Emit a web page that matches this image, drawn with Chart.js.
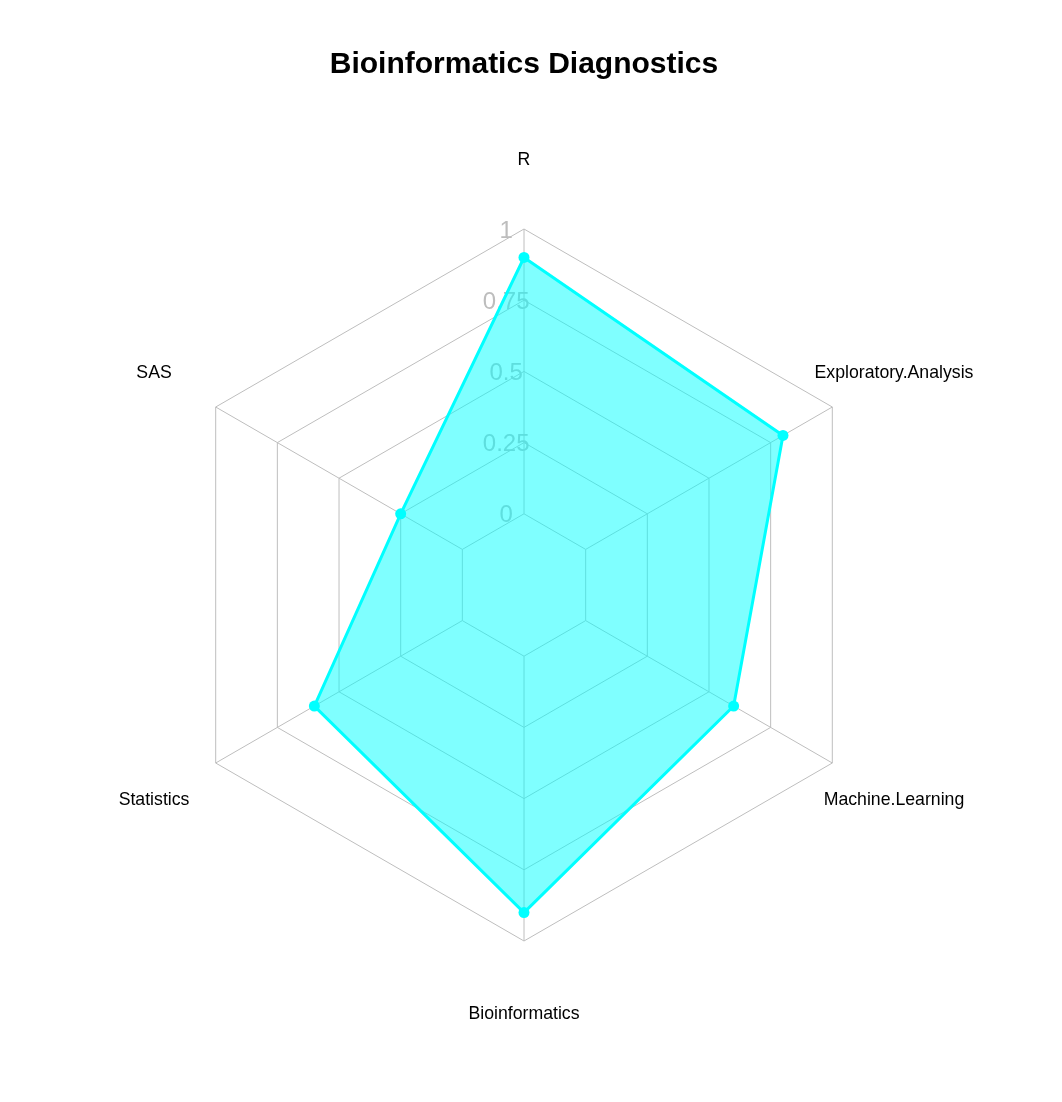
<!DOCTYPE html>
<html>
<head>
<meta charset="utf-8">
<title>Bioinformatics Diagnostics</title>
<script src="https://cdn.jsdelivr.net/npm/chart.js@4.4.1/dist/chart.umd.min.js"></script>
<style>
  html, body { margin: 0; padding: 0; background: #fff; }
  #wrap { width: 1062px; height: 1102px; }
</style>
</head>
<body>
<div id="wrap"><canvas id="radar" width="1062" height="1102"></canvas></div>
<script>
  // 数据
  var skills = ["R", "Exploratory.Analysis", "Machine.Learning", "Bioinformatics", "Statistics", "SAS"];
  var scores = [0.9, 0.8, 0.6, 0.9, 0.6, 0.25];
  var axisTicks = [0, 0.25, 0.5, 0.75, 1];
  var axisTickLabels = ["0", "0.25", "0.5", "0.75", "1"];

  var FONT = "'Liberation Sans', Arial, sans-serif";
  var GRID = "#bebebe";

  /* ── fmsb 风格：轴线从内圈出发，刻度标签偏左，标签在 1.2 倍半径 ── */
  var fmsbLook = {
    id: "fmsbLook",
    beforeDatasetsDraw: function (chart) {
      var s = chart.scales.r;
      var ctx = chart.ctx;
      var inner = s.getDistanceFromCenterForValue(axisTicks[0]);
      var outer = s.getDistanceFromCenterForValue(axisTicks[axisTicks.length - 1]);
      ctx.save();
      ctx.strokeStyle = GRID;
      ctx.lineWidth = 1;
      for (var i = 0; i < skills.length; i++) {
        var a = s.getPointPosition(i, inner);
        var b = s.getPointPosition(i, outer);
        ctx.beginPath();
        ctx.moveTo(a.x, a.y);
        ctx.lineTo(b.x, b.y);
        ctx.stroke();
      }
      // 刻度标签（在填充下面）
      ctx.fillStyle = "#bdbdbd";
      ctx.font = "24px " + FONT;
      ctx.textAlign = "center";
      ctx.textBaseline = "middle";
      for (var j = 0; j < axisTicks.length; j++) {
        var d = s.getDistanceFromCenterForValue(axisTicks[j]);
        ctx.fillText(axisTickLabels[j], s.xCenter - 0.05 * outer, s.yCenter - d + 2);
      }
      ctx.restore();
    },
    afterDraw: function (chart) {
      var s = chart.scales.r;
      var ctx = chart.ctx;
      var outer = s.getDistanceFromCenterForValue(axisTicks[axisTicks.length - 1]);
      ctx.save();
      ctx.fillStyle = "#000";
      ctx.font = "17.7px " + FONT;
      ctx.textAlign = "center";
      ctx.textBaseline = "middle";
      for (var i = 0; i < skills.length; i++) {
        var p = s.getPointPosition(i, outer * 1.2);
        ctx.fillText(skills[i], p.x, p.y + 2);
      }
      ctx.restore();
    }
  };

  new Chart(document.getElementById("radar"), {
    type: "radar",
    data: {
      labels: skills,
      datasets: [{
        label: "Bioinformatics Diagnostics",
        data: scores,
        borderColor: "#00ffff",
        backgroundColor: "rgba(0,255,255,0.5)",
        borderWidth: 3,
        fill: "start",
        tension: 0,
        pointRadius: 5.5,
        pointHoverRadius: 5.5,
        pointBackgroundColor: "#00ffff",
        pointBorderWidth: 0
      }]
    },
    options: {
      responsive: false,
      animation: false,
      layout: { padding: { left: 168, right: 182, top: 0, bottom: 161 } },
      plugins: {
        legend: { display: false },
        tooltip: { enabled: false },
        title: {
          display: true,
          text: "Bioinformatics Diagnostics",
          color: "#000",
          font: { family: FONT, size: 30, weight: "bold", lineHeight: 1.2 },
          padding: { top: 47, bottom: 146 }
        }
      },
      scales: {
        r: {
          min: -0.25,
          max: 1,
          beginAtZero: false,
          ticks: { display: false, stepSize: 0.25 },
          pointLabels: { display: false },
          angleLines: { display: false },
          grid: { color: GRID, lineWidth: 1, circular: false }
        }
      }
    },
    plugins: [fmsbLook]
  });
</script>
</body>
</html>
